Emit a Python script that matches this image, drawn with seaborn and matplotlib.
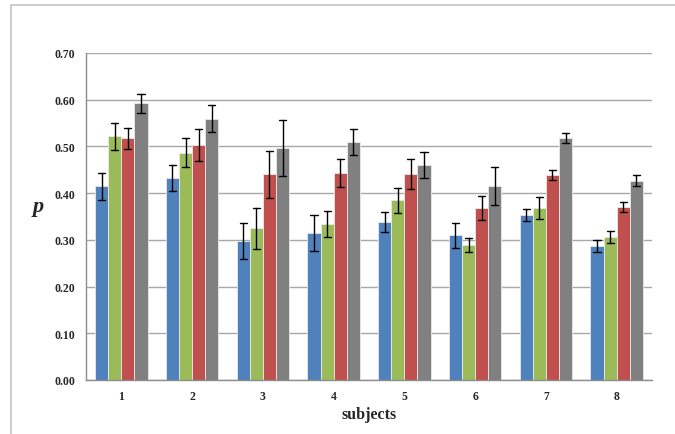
import numpy as np
import pandas as pd
import matplotlib
matplotlib.use("Agg")
import matplotlib.pyplot as plt
import seaborn as sns
from matplotlib.patches import Rectangle
from matplotlib.ticker import FormatStrFormatter, FixedLocator

subjects = ["1", "2", "3", "4", "5", "6", "7", "8"]
series_names = ["S1", "S2", "S3", "S4"]
series_colors = ["#4F81BD", "#9BBB59", "#C0504D", "#808080"]

s1 = [0.415, 0.433, 0.298, 0.315, 0.338, 0.310, 0.354, 0.287]
s1_err = [0.029, 0.028, 0.038, 0.038, 0.021, 0.027, 0.013, 0.012]
s2 = [0.522, 0.486, 0.325, 0.334, 0.385, 0.289, 0.368, 0.306]
s2_err = [0.029, 0.031, 0.044, 0.027, 0.027, 0.015, 0.023, 0.013]
s3 = [0.517, 0.503, 0.440, 0.443, 0.441, 0.368, 0.439, 0.371]
s3_err = [0.022, 0.035, 0.050, 0.030, 0.033, 0.025, 0.011, 0.011]
s4 = [0.592, 0.559, 0.497, 0.509, 0.460, 0.415, 0.518, 0.427]
s4_err = [0.020, 0.029, 0.060, 0.028, 0.028, 0.041, 0.011, 0.012]

yticks = [0.0, 0.1, 0.2, 0.3, 0.4, 0.5, 0.6, 0.7]

# Build long table: two rows per bar (value - err, value + err); the mean is the
# bar height and the full percentile interval gives the error bar.
rows = []
for name, vals, errs in zip(series_names, [s1, s2, s3, s4], [s1_err, s2_err, s3_err, s4_err]):
    for subj, v, e in zip(subjects, vals, errs):
        rows.append({"subject": subj, "series": name, "p": v - e})
        rows.append({"subject": subj, "series": name, "p": v + e})
df = pd.DataFrame(rows)

sns.set_style("white")
plt.rcParams["font.family"] = ["Liberation Serif", "DejaVu Serif"]

fig = plt.figure(figsize=(6.75, 4.35), dpi=100)
ax = fig.add_axes([86 / 675, 1 - 381 / 435, (652 - 86) / 675, (381 - 54) / 435])

sns.barplot(
    data=df, x="subject", y="p", hue="series", order=subjects, hue_order=series_names,
    palette=series_colors, estimator="mean", errorbar=("pi", 100), capsize=0.4,
    err_kws={"color": "black", "linewidth": 1.0}, width=0.74, legend=False,
    edgecolor="#eaeaea", linewidth=0.6, saturation=1, ax=ax, zorder=2,
)

ax.set_ylim(0, 0.7)
ax.set_xlim(-0.5, 7.5)
ax.yaxis.set_major_locator(FixedLocator(yticks))
ax.yaxis.set_major_formatter(FormatStrFormatter("%.2f"))
ax.grid(axis="y", color="#a8a8a8", linewidth=1.0, zorder=0)
ax.set_axisbelow(True)
for side in ["top", "right"]:
    ax.spines[side].set_visible(False)
for side in ["left", "bottom"]:
    ax.spines[side].set_color("#8c8c8c")
    ax.spines[side].set_linewidth(1.0)

ax.tick_params(axis="y", length=0, pad=8, labelsize=8.5)
ax.tick_params(axis="x", which="major", length=0, pad=7, labelsize=8.5)
ax.set_xticks(np.arange(-0.5, 8.0, 1.0), minor=True)
ax.tick_params(axis="x", which="minor", length=4, color="#8c8c8c", width=1.0)
for lab in ax.get_xticklabels() + ax.get_yticklabels():
    lab.set_fontweight("bold")

ax.set_xlabel("subjects", fontsize=11.5, fontweight="bold", labelpad=3)
ax.set_ylabel("")
fig.text(38 / 675, 1 - 207 / 435, "p", fontsize=16, fontweight="bold", fontstyle="italic",
         ha="center", va="center")

# outer chart frame
fig.patches.append(Rectangle((11 / 675, -0.05), 1.2, 1 - 6 / 435 + 0.05, transform=fig.transFigure,
                             fill=False, edgecolor="#c4c4c4", linewidth=1.2, zorder=0))

fig.savefig("out.png", dpi=100)
